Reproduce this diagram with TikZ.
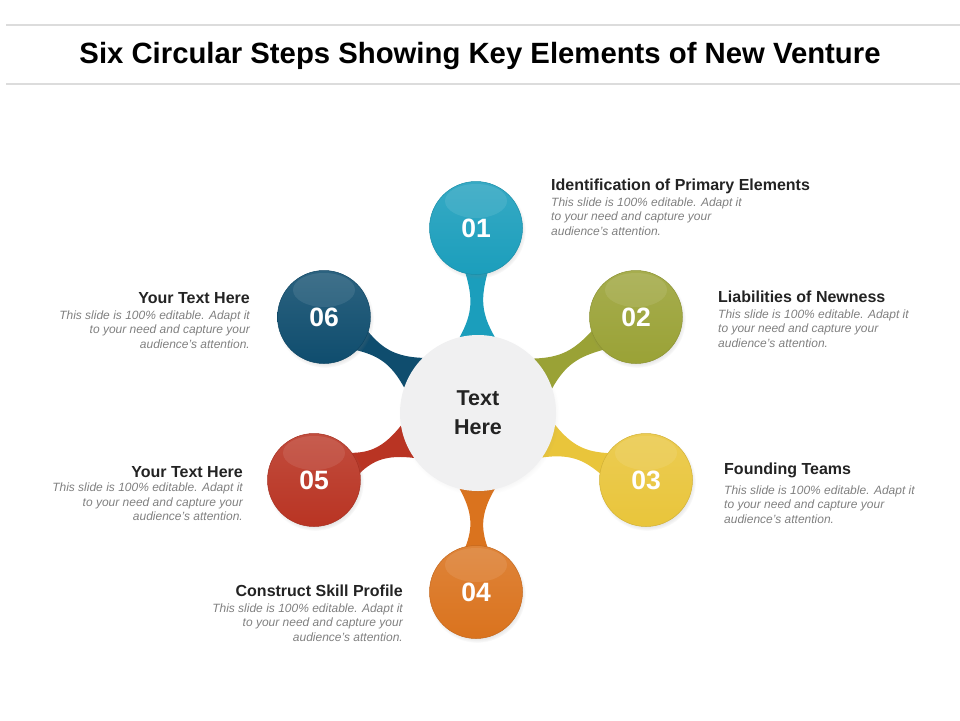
\documentclass[tikz,border=0pt]{standalone}
\usepackage{fontspec}
\setmainfont{Liberation Sans}
\usetikzlibrary{positioning,calc,shadows,backgrounds}
\definecolor{stepa}{HTML}{1B9EBC}
\definecolor{stepb}{HTML}{9AA236}
\definecolor{stepc}{HTML}{E9C53B}
\definecolor{stepd}{HTML}{DA731E}
\definecolor{stepe}{HTML}{B93423}
\definecolor{stepf}{HTML}{0F4D6E}
\definecolor{hubgray}{HTML}{F0F0F1}
\definecolor{rulegray}{HTML}{DCDCDC}
\definecolor{headgray}{HTML}{232323}
\definecolor{bodygray}{HTML}{808080}
\tikzset{stepball/.style={circle, minimum size=93pt, inner sep=0pt, top color=#1!88!white, bottom color=#1, draw=#1!90!black, line width=0.5pt, text=white, font=\fontsize{26.5}{26.5}\selectfont\bfseries, circular drop shadow={shadow scale=1.05, opacity=0.3, shadow xshift=1pt, shadow yshift=-2pt}, path picture={\fill[white, fill opacity=0.09] ([yshift=27pt]path picture bounding box.center) ellipse [x radius=31pt, y radius=17pt];}}}
\tikzset{hubball/.style={circle, minimum size=156pt, inner sep=0pt, fill=hubgray, text=headgray, align=center, font=\fontsize{21.5}{29}\selectfont\bfseries, circular drop shadow={shadow scale=1.03, opacity=0.15, shadow xshift=1pt, shadow yshift=-2pt}}}
\tikzset{stephead/.style={inner sep=0pt, text=headgray, font=\fontsize{16}{18}\selectfont\bfseries, text height=11.5pt, text depth=3.5pt}}
\tikzset{stepbody/.style={inner sep=0pt, text=bodygray, font=\fontsize{12}{14.5}\selectfont\itshape, align=#1}}
\newcommand\neckfill[3]{
		\fill[#1] ($(#2.center)!78pt!13:(#3.center)$)
			.. controls ($(#2.center)!100pt!(#3.center)!4pt!90:(#3.center)$) and ($(#2.center)!115pt!(#3.center)!4pt!90:(#3.center)$) .. ($(#3.center)!46pt!-14:(#2.center)$)
			-- ($(#3.center)!46pt!14:(#2.center)$)
			.. controls ($(#2.center)!115pt!(#3.center)!4pt!-90:(#3.center)$) and ($(#2.center)!100pt!(#3.center)!4pt!-90:(#3.center)$) .. ($(#2.center)!78pt!-13:(#3.center)$)
			-- cycle;
		}

\begin{document}
\begin{tikzpicture}[x=1pt, y=-1pt]
		\useasboundingbox (0,0) rectangle (960,720);
		% title between two rules
		\draw[rulegray, line width=1.2pt] (6,25) -- (960,25);
		\draw[rulegray, line width=1.2pt] (6,84) -- (960,84);
		\node[font=\fontsize{29.3}{32}\selectfont\bfseries, text=black] (title) at (480,56) {Six Circular Steps Showing Key Elements of New Venture};

		\node[hubball] (hub) at (478,413) {Text\\Here};
		\node[stepball=stepa] (s1) at (476,228) {01};
		\node[stepball=stepb] (s2) at (636,317) {02};
		\node[stepball=stepc] (s3) at (646,480) {03};
		\node[stepball=stepd] (s4) at (476,592) {04};
		\node[stepball=stepe] (s5) at (314,480) {05};
		\node[stepball=stepf] (s6) at (324,317) {06};

		\begin{scope}[on background layer]
		\neckfill{stepa}{hub}{s1}
		\neckfill{stepb}{hub}{s2}
		\neckfill{stepc}{hub}{s3}
		\neckfill{stepd}{hub}{s4}
		\neckfill{stepe}{hub}{s5}
		\neckfill{stepf}{hub}{s6}
		\end{scope}

		% labels
		\node[stephead, anchor=base west] (h1) at (551,190.5) {Identification of Primary Elements};
		\node[stepbody=left, below right=3pt and 0pt of h1.south west] (b1) {This slide is 100\% editable. Adapt it\\to your need and capture your\\audience’s attention.};
		\node[stephead, anchor=base west] (h2) at (718,302.5) {Liabilities of Newness};
		\node[stepbody=left, below right=3pt and 0pt of h2.south west] (b2) {This slide is 100\% editable. Adapt it\\to your need and capture your\\audience’s attention.};
		\node[stephead, anchor=base west] (h3) at (724,474.5) {Founding Teams};
		\node[stepbody=left, below right=7pt and 0pt of h3.south west] (b3) {This slide is 100\% editable. Adapt it\\to your need and capture your\\audience’s attention.};
		\node[stephead, anchor=base east] (h4) at (403,596.5) {Construct Skill Profile};
		\node[stepbody=right, below left=3pt and 0pt of h4.south east] (b4) {This slide is 100\% editable. Adapt it\\to your need and capture your\\audience’s attention.};
		\node[stephead, anchor=base east] (h5) at (243,477) {Your Text Here};
		\node[stepbody=right, below left=2pt and 0pt of h5.south east] (b5) {This slide is 100\% editable. Adapt it\\to your need and capture your\\audience’s attention.};
		\node[stephead, anchor=base east] (h6) at (250,303.5) {Your Text Here};
		\node[stepbody=right, below left=3pt and 0pt of h6.south east] (b6) {This slide is 100\% editable. Adapt it\\to your need and capture your\\audience’s attention.};
	\end{tikzpicture}
\end{document}
